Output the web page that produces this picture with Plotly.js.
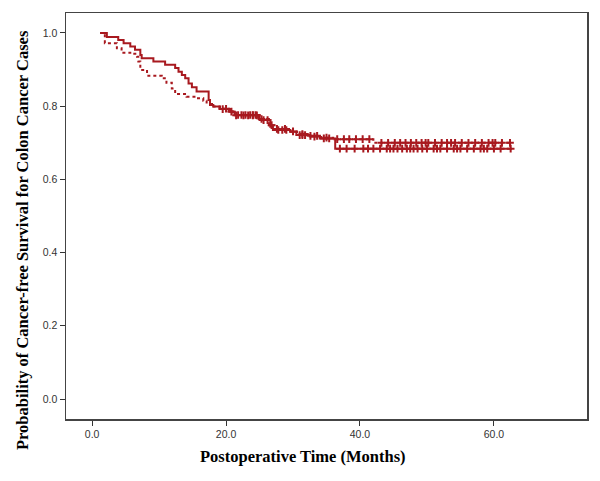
<!DOCTYPE html>
<html>
<head>
<meta charset="utf-8">
<script src="https://cdn.plot.ly/plotly-3.0.1.min.js"></script>
<style>html,body{margin:0;padding:0;background:#fff}#chart{width:600px;height:481px}</style>
</head>
<body>
<div id="chart"></div>
<script>
// Group 1 (solid line): step points (time in months, survival probability)
const solidTime = [1.2, 2.2, 3.9, 4.7, 5.7, 6.4, 7.2, 7.4, 9.15, 10.9, 12.4, 12.9, 13.4, 13.9, 14.4, 14.9, 15.6, 17.4, 17.6, 18.1, 19.1, 20.6, 21.3, 25.0, 26.6, 27.0, 29.6, 30.5, 32.5, 34.0, 36.3, 62.7];
const solidSurv = [1.0, 0.989, 0.981, 0.972, 0.963, 0.954, 0.94, 0.931, 0.922, 0.913, 0.904, 0.894, 0.885, 0.876, 0.862, 0.852, 0.84, 0.817, 0.803, 0.799, 0.792, 0.785, 0.776, 0.762, 0.744, 0.735, 0.73, 0.721, 0.717, 0.712, 0.684, 0.684];
const solidCensor = [19.5, 20.8, 21.8, 22.3, 22.9, 23.6, 24.0, 24.4, 25.6, 26.2, 27.8, 28.4, 29.0, 31.0, 31.4, 31.8, 33.2, 34.6, 35.4, 37.0, 38.0, 39.2, 40.5, 41.2, 42.0, 43.0, 44.0, 44.5, 45.0, 45.6, 46.3, 47.0, 47.5, 48.0, 48.6, 49.3, 50.0, 51.0, 51.5, 52.0, 53.0, 54.0, 54.5, 55.0, 56.0, 57.0, 58.0, 58.5, 59.0, 60.0, 61.0, 62.5];

// Group 2 (dotted line)
const dotTime = [1.2, 1.9, 3.7, 4.4, 5.7, 6.7, 6.9, 7.2, 8.2, 8.4, 10.4, 11.1, 11.9, 12.4, 14.1, 15.6, 16.6, 17.1, 17.9, 19.0, 20.4, 21.0, 24.8, 26.4, 27.2, 29.4, 30.6, 32.2, 34.2, 36.0, 42.0, 62.7];
const dotSurv = [1.0, 0.972, 0.958, 0.946, 0.943, 0.935, 0.922, 0.899, 0.89, 0.883, 0.876, 0.864, 0.848, 0.833, 0.826, 0.822, 0.815, 0.806, 0.799, 0.793, 0.786, 0.775, 0.765, 0.748, 0.738, 0.731, 0.724, 0.719, 0.714, 0.71, 0.7, 0.7];
const dotCensor = [20.0, 21.5, 22.6, 23.3, 24.0, 24.6, 25.3, 26.8, 27.6, 28.8, 30.0, 31.4, 32.6, 33.6, 35.0, 36.6, 37.6, 38.4, 39.4, 40.4, 41.4, 43.2, 44.2, 45.2, 46.0, 46.8, 47.6, 48.4, 49.2, 49.8, 50.2, 51.2, 52.2, 53.0, 53.6, 54.2, 55.2, 56.2, 57.2, 58.2, 59.2, 59.8, 60.2, 61.2, 62.4];

const xTicks = [0, 20, 40, 60];
const yTicks = [0, 0.2, 0.4, 0.6, 0.8, 1.0];

const red = '#a8191f';

function stepAt(times, surv, t) {
  let v = surv[0];
  for (let i = 0; i < times.length; i++) { if (times[i] <= t) v = surv[i]; }
  return v;
}

const traces = [
  {x: solidTime, y: solidSurv, mode: 'lines', line: {color: red, width: 2, shape: 'hv'}, hoverinfo: 'skip'},
  {x: dotTime, y: dotSurv, mode: 'lines', line: {color: red, width: 2, shape: 'hv', dash: 'dot'}, hoverinfo: 'skip'},
  {x: solidCensor, y: solidCensor.map(t => stepAt(solidTime, solidSurv, t)), mode: 'markers',
   marker: {symbol: 'cross-thin', size: 5.5, color: red, line: {color: red, width: 2}}, hoverinfo: 'skip'},
  {x: dotCensor, y: dotCensor.map(t => stepAt(dotTime, dotSurv, t)), mode: 'markers',
   marker: {symbol: 'cross-thin', size: 5.5, color: red, line: {color: red, width: 2}}, hoverinfo: 'skip'}
];

const tickFont = {family: 'Liberation Sans, Arial, sans-serif', size: 10.5, color: '#333'};
const titleFont = {family: 'Liberation Serif, Times New Roman, serif', size: 16.5, color: '#000'};

const layout = {
  width: 600, height: 481,
  margin: {l: 66, r: 13, t: 13, b: 62},
  paper_bgcolor: '#fff', plot_bgcolor: '#fff',
  showlegend: false,
  xaxis: {
    range: [-3.9, 73.9], tickvals: xTicks, ticktext: xTicks.map(v => v.toFixed(1)),
    ticks: 'outside', ticklen: 5, tickwidth: 1, tickcolor: '#333',
    showline: true, linecolor: '#444', linewidth: 1.5, mirror: true,
    showgrid: false, zeroline: false, tickfont: tickFont
  },
  yaxis: {
    range: [-0.0546, 1.0546], tickvals: yTicks, ticktext: yTicks.map(v => v.toFixed(1)),
    ticks: 'outside', ticklen: 5, tickwidth: 1, tickcolor: '#333',
    showline: true, linecolor: '#444', linewidth: 1.5, mirror: true,
    showgrid: false, zeroline: false, tickfont: tickFont
  },
  annotations: [
    {text: '<b>Postoperative Time (Months)</b>', xref: 'paper', yref: 'paper',
     x: (303 - 66) / 521, y: -(456 - 419) / 406, xanchor: 'center', yanchor: 'middle',
     showarrow: false, font: titleFont},
    {text: '<b>Probability of Cancer-free Survival for Colon Cancer Cases</b>', xref: 'paper', yref: 'paper',
     x: -(66 - 23) / 521, y: (419 - 240) / 406, xanchor: 'center', yanchor: 'middle', textangle: -90,
     showarrow: false, font: titleFont}
  ]
};

Plotly.newPlot('chart', traces, layout, {displayModeBar: false, staticPlot: true});
</script>
</body>
</html>
